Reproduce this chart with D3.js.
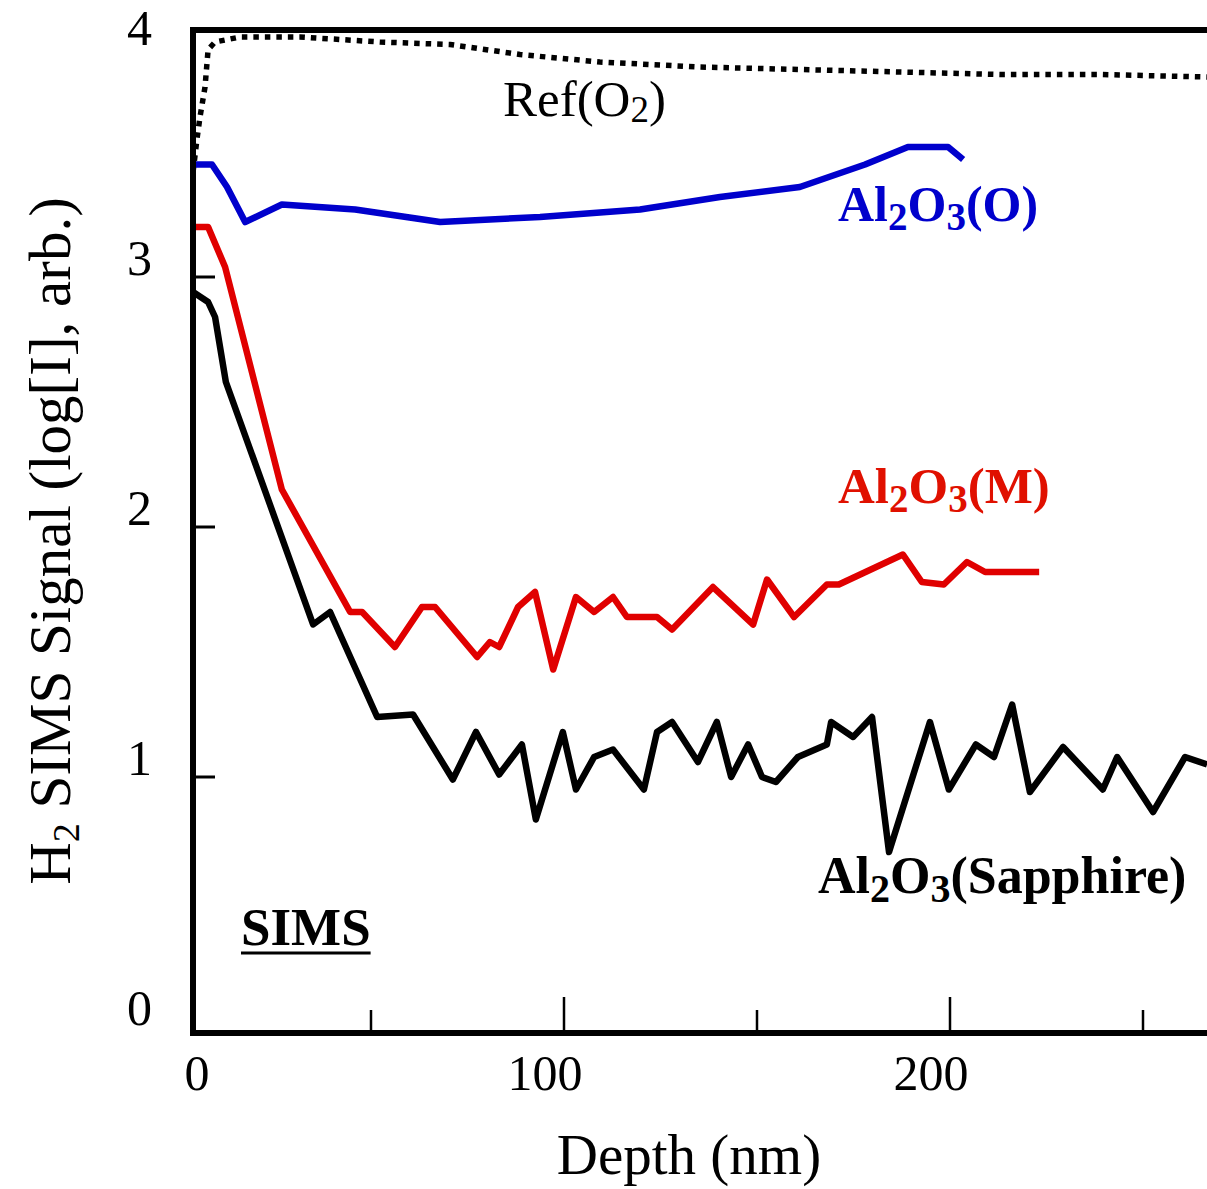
<!DOCTYPE html>
<html>
<head>
<meta charset="utf-8">
<script src="https://cdn.jsdelivr.net/npm/d3@7"></script>
<style>
  body { margin: 0; background: #fff; }
  svg { display: block; }
  text { font-family: "Liberation Serif", "Times New Roman", serif; }
</style>
</head>
<body>
<svg id="chart" width="1207" height="1189"></svg>
<script>
// ---- Depth profiles: depth (nm) vs log10 H2 signal ----
const refDepth   = [3.9, 4.9, 5.7, 7.0, 7.8, 9.6, 16.1, 31.6, 52.3, 70.5, 88.6, 109.3, 135.2, 161.1, 187.0, 213.0, 238.9, 266.6];
const refSignal  = [3.42, 3.55, 3.64, 3.76, 3.91, 3.94, 3.96, 3.96, 3.94, 3.93, 3.89, 3.86, 3.84, 3.83, 3.82, 3.81, 3.81, 3.80];

const oxDepth    = [3.9, 8.8, 12.7, 17.4, 26.9, 45.9, 67.9, 93.8, 119.7, 140.4, 161.1, 178.0, 189.1, 199.5, 203.4];
const oxSignal   = [3.45, 3.45, 3.36, 3.22, 3.29, 3.27, 3.22, 3.24, 3.27, 3.32, 3.36, 3.45, 3.52, 3.52, 3.47];

const mDepth     = [3.9, 7.8, 12.2, 26.9, 44.6, 47.7, 56.2, 63.2, 66.6, 77.5, 80.8, 83.2, 88.1, 92.5, 97.2, 103.1, 107.8, 112.7, 116.3, 124.1, 128.0, 138.6, 149.0, 152.6, 159.6, 168.1, 171.2, 187.8, 192.7, 198.4, 204.4, 209.1, 223.1];
const mSignal    = [3.20, 3.20, 3.04, 2.15, 1.66, 1.66, 1.52, 1.68, 1.68, 1.48, 1.54, 1.52, 1.68, 1.74, 1.43, 1.72, 1.66, 1.72, 1.64, 1.64, 1.59, 1.76, 1.61, 1.79, 1.64, 1.77, 1.77, 1.89, 1.78, 1.77, 1.86, 1.82, 1.82];

const sapDepth   = [3.9, 7.8, 9.6, 12.4, 35.0, 39.4, 51.6, 60.9, 71.2, 77.2, 83.2, 89.1, 92.7, 99.7, 103.1, 107.8, 112.7, 120.7, 124.1, 128.0, 134.7, 139.6, 143.3, 147.7, 151.3, 154.9, 160.6, 168.1, 169.2, 174.9, 179.8, 184.2, 194.8, 199.7, 206.7, 211.4, 216.1, 220.7, 229.3, 239.6, 243.3, 252.6, 260.9, 266.6];
const sapSignal  = [2.94, 2.90, 2.84, 2.58, 1.61, 1.66, 1.24, 1.25, 0.99, 1.18, 1.01, 1.13, 0.83, 1.18, 0.95, 1.08, 1.11, 0.95, 1.18, 1.22, 1.06, 1.22, 1.00, 1.13, 1.00, 0.98, 1.08, 1.13, 1.22, 1.16, 1.24, 0.70, 1.22, 0.95, 1.13, 1.08, 1.29, 0.94, 1.12, 0.95, 1.08, 0.86, 1.08, 1.05];

// ---- Axis ticks ----
const depthTicks      = [50, 100, 150, 200, 250];
const depthMajorTicks = [100, 200];
const depthTickLabels = ["0", "100", "200"];
const signalTicks      = [1, 2, 3];
const signalTickLabels = ["0", "1", "2", "3", "4"];

const svg = d3.select("#chart");

const frame = { left: 193, top: 30, bottom: 1033, right: 1240 };

const x = d3.scaleLinear().domain([0, 250]).range([178, 1143]);
const y = d3.scaleLinear().domain([0, 4]).range([1027, 27]);

const zip = (xs, ys) => xs.map((d, i) => [d, ys[i]]);
const line = d3.line().x(d => x(d[0])).y(d => y(d[1]));

const series = [
  { pts: zip(refDepth, refSignal), color: "#000", dash: "5.5,6", width: 5.5 },
  { pts: zip(oxDepth, oxSignal),   color: "#0000cc", dash: null, width: 6.5 },
  { pts: zip(mDepth, mSignal),     color: "#e00000", dash: null, width: 6.5 },
  { pts: zip(sapDepth, sapSignal), color: "#000", dash: null, width: 6.5 }
];

svg.append("defs").append("clipPath").attr("id", "plotClip")
  .append("rect").attr("x", frame.left - 4).attr("y", frame.top - 4)
  .attr("width", 1207 - frame.left + 4).attr("height", frame.bottom - frame.top + 8);

const gLines = svg.append("g").attr("clip-path", "url(#plotClip)");
series.forEach(s => {
  gLines.append("path")
    .attr("d", line(s.pts))
    .attr("fill", "none")
    .attr("stroke", s.color)
    .attr("stroke-width", s.width)
    .attr("stroke-linejoin", "round")
    .attr("stroke-linecap", "butt")
    .attr("stroke-dasharray", s.dash);
});

// ---- Frame ----
svg.append("path")
  .attr("d", `M${frame.right},${frame.top}H${frame.left}V${frame.bottom}H${frame.right}`)
  .attr("fill", "none").attr("stroke", "#000").attr("stroke-width", 6)
  .attr("stroke-linejoin", "miter");

// y ticks point inward
svg.append("g").selectAll("line").data(signalTicks).join("line")
  .attr("x1", frame.left).attr("x2", frame.left + 22)
  .attr("y1", d => y(d)).attr("y2", d => y(d))
  .attr("stroke", "#000").attr("stroke-width", 3);

// x ticks point inward
svg.append("g").selectAll("line").data(depthTicks).join("line")
  .attr("x1", d => x(d)).attr("x2", d => x(d))
  .attr("y1", frame.bottom).attr("y2", d => frame.bottom - (depthMajorTicks.includes(d) ? 36 : 23))
  .attr("stroke", "#000").attr("stroke-width", 2.5);

// tick labels
svg.append("g").selectAll("text").data(signalTickLabels).join("text")
  .attr("x", 152)
  .attr("y", d => Math.max(y(+d) - 2, 45))
  .attr("text-anchor", "end")
  .attr("font-size", 50)
  .text(d => d);

svg.append("g").selectAll("text").data(depthTickLabels).join("text")
  .attr("x", d => Math.max(x(+d) - 19, 197))
  .attr("y", 1090)
  .attr("text-anchor", "middle")
  .attr("font-size", 50)
  .text(d => d);

// ---- Text with subscripts ----
function chem(parent, parts, opts) {
  const t = parent.append("text")
    .attr("x", opts.x).attr("y", opts.y)
    .attr("font-size", opts.size)
    .attr("font-weight", opts.bold ? "bold" : "normal")
    .attr("fill", opts.color || "#000")
    .attr("text-anchor", opts.anchor || "start");
  if (opts.transform) t.attr("transform", opts.transform);
  let lowered = false;
  parts.forEach(([s, sub]) => {
    const sp = t.append("tspan").text(s);
    if (sub && !lowered) { sp.attr("dy", opts.subDy).attr("font-size", opts.subSize); lowered = true; }
    else if (sub) { sp.attr("font-size", opts.subSize); }
    else if (!sub && lowered) { sp.attr("dy", -opts.subDy); lowered = false; }
  });
  return t;
}

// axis titles
chem(svg, [["H", false], ["2", true], [" SIMS Signal (log[I], arb.)", false]],
  { x: 0, y: 0, size: 59, subSize: 38, subDy: 9, anchor: "middle",
    transform: "translate(70,541) rotate(-90)" });

svg.append("text").attr("x", 689).attr("y", 1174)
  .attr("text-anchor", "middle").attr("font-size", 57)
  .text("Depth (nm)");

// series labels
chem(svg, [["Ref(O", false], ["2", true], [")", false]],
  { x: 503, y: 116, size: 51, subSize: 37, subDy: 6 });

chem(svg, [["Al", false], ["2", true], ["O", false], ["3", true], ["(O)", false]],
  { x: 838, y: 221, size: 50, subSize: 39, subDy: 9, bold: true, color: "#0000cc" });

chem(svg, [["Al", false], ["2", true], ["O", false], ["3", true], ["(M)", false]],
  { x: 838, y: 503, size: 51, subSize: 39, subDy: 9, bold: true, color: "#e01000" });

chem(svg, [["Al", false], ["2", true], ["O", false], ["3", true], ["(Sapphire)", false]],
  { x: 818, y: 893, size: 52, subSize: 40, subDy: 9, bold: true, color: "#000" });

const simsLabel = svg.append("text").attr("x", 241).attr("y", 945)
  .attr("font-size", 53).attr("font-weight", "bold")
  .text("SIMS");
const sb = simsLabel.node().getBBox();
svg.append("line")
  .attr("x1", sb.x).attr("x2", sb.x + sb.width)
  .attr("y1", 953).attr("y2", 953)
  .attr("stroke", "#000").attr("stroke-width", 3);
</script>
</body>
</html>
